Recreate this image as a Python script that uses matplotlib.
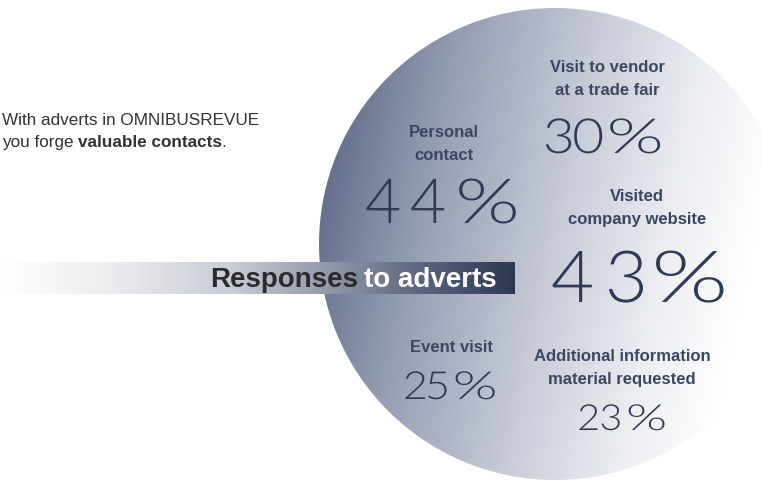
import matplotlib
matplotlib.use("Agg")
import matplotlib.pyplot as plt
import numpy as np
from matplotlib.colors import LinearSegmentedColormap
from matplotlib.patches import Circle, PathPatch
from matplotlib.textpath import TextPath
from matplotlib.font_manager import FontProperties
from matplotlib.transforms import Affine2D

# ── 데이터 ─────────────────────────────────────────────────────────────
categories = [
    "Personal\ncontact",
    "Visit to vendor\nat a trade fair",
    "Visited\ncompany website",
    "Event visit",
    "Additional information\nmaterial requested",
]
values = [44, 30, 43, 25, 23]

intro_line1 = "With adverts in OMNIBUSREVUE"
intro_line2 = ["you forge ", "valuable contacts", "."]
title_parts = ["Responses", "to adverts"]

# ── 레이아웃 (픽셀 단위, y 는 위에서 아래로) ──────────────────────────
label_x = [444, 607, 637, 451, 622]
label_base = [137, 72, 201, 352, 361]       # 첫 줄 baseline
pct_x = [441, 603, 638, 450, 622]           # 퍼센트 중심
pct_base = [223, 153, 302, 399, 430]
pct_height = [45, 35, 52, 28, 26]           # 숫자 높이
pct_width = [147, 117, 173, 95, 89]         # 전체 폭
pct_gaps = [(12, 15), (3, 8), (17, 13), (3, 9), (4, 9)]
DIGIT_R, PCT_R = 0.7, 1.25                  # 숫자 / % 상대 폭

W, H = 761, 480
LABEL_C = "#3b4660"
PCT_C = "#2f3b55"
SANS = ["Liberation Sans", "DejaVu Sans"]
THIN = FontProperties(family=["Lato", "Open Sans", "DejaVu Sans"], weight=300)

fig = plt.figure(figsize=(W / 100, H / 100), dpi=100)
ax = fig.add_axes([0, 0, 1, 1])
ax.set_xlim(0, W); ax.set_ylim(H, 0)
ax.axis("off")
renderer = fig.canvas.get_renderer()


def _width(txt):
    return txt.get_window_extent(renderer).width


def draw_pct(s, xc, base, h, total_w, gaps):
    """퍼센트 문자열을 글자별 경로로 그려 폭/자간을 맞춘다."""
    zero = TextPath((0, 0), "0", size=100, prop=THIN).get_extents()
    size = 100 * h / zero.height
    w_zero = zero.width * size / 100
    w_pct = TextPath((0, 0), "%", size=size, prop=THIN).get_extents().width
    gap_list = [gaps[0]] * (len(s) - 2) + [gaps[1], 0]
    unit = (total_w - sum(gap_list)) / (DIGIT_R * (len(s) - 1) + PCT_R)
    xs_d = DIGIT_R * unit / w_zero
    xs_p = PCT_R * unit / w_pct
    placed = []
    cur = 0.0
    for ch, g in zip(s, gap_list):
        p = TextPath((0, 0), ch, size=size, prop=THIN)
        e = p.get_extents()
        xs = xs_p if ch == "%" else xs_d
        placed.append((p, e, xs, cur))
        cur += e.width * xs + g
    x0 = xc - cur / 2
    for p, e, xs, off in placed:
        tr = Affine2D().translate(-e.x0, 0).scale(xs, -1).translate(x0 + off, base)
        ax.add_patch(PathPatch(tr.transform_path(p), fc=PCT_C, ec="none", lw=0, zorder=3))


# ── 원형 그라데이션 ───────────────────────────────────────────────────
cx, cy, r = 555, 244, 236
circ_cmap = LinearSegmentedColormap.from_list(
    "circ", [(0, "#4f5d7d"), (0.25, "#959db2"), (0.5, "#c8ccd8"),
             (0.7, "#eceef2"), (0.85, "#ffffff"), (1, "#ffffff")])
gx, gy = np.meshgrid(np.linspace(cx - r, cx + r, 400), np.linspace(cy - r, cy + r, 400))
ang = np.deg2rad(12)
proj = (gx - (cx - r)) * np.cos(ang) + (gy - (cy - r)) * np.sin(ang)
proj = (proj - proj.min()) / (proj.max() - proj.min())
im = ax.imshow(proj, cmap=circ_cmap, extent=[cx - r, cx + r, cy + r, cy - r],
               origin="upper", interpolation="bilinear", zorder=1, aspect="auto")
clip = Circle((cx, cy), r, transform=ax.transData)
im.set_clip_path(clip)

# ── 배너 ─────────────────────────────────────────────────────────────
bx0, bx1, by0, by1 = 0, 515, 262, 294
ban_cmap = LinearSegmentedColormap.from_list(
    "ban", [(0, "#ffffff"), (0.2, "#eeeef1"), (0.45, "#c9ccd5"),
            (0.65, "#8e95a6"), (0.85, "#525d76"), (1, "#2d3852")])
ax.imshow(np.linspace(0, 1, 300)[None, :], cmap=ban_cmap,
          extent=[bx0, bx1, by1, by0], aspect="auto", zorder=2)

t2 = ax.text(497, 287, title_parts[1], fontsize=20, fontweight="bold",
             family=SANS, color="white", ha="right", va="baseline", zorder=3)
gap = 6
ax.text(497 - _width(t2) - gap, 287, title_parts[0], fontsize=20, fontweight="bold",
        family=SANS, color="#2b2b2b", ha="right", va="baseline", zorder=3)

# ── 소개 문구 ─────────────────────────────────────────────────────────
ax.text(2, 125, intro_line1, fontsize=12.3, family=SANS, color="#333333",
        ha="left", va="baseline", zorder=3)
x = 2
for part, wgt in zip(intro_line2, ["normal", "bold", "normal"]):
    t = ax.text(x, 147, part.rstrip(), fontsize=12.3, family=SANS, fontweight=wgt,
                color="#333333", ha="left", va="baseline", zorder=3)
    x += _width(t) + (4 if part.endswith(" ") else 0)

# ── 항목 라벨 + 퍼센트 ────────────────────────────────────────────────
for cat, val, lx, lb, px, pb, ph, pw, pg in zip(categories, values, label_x, label_base,
                                               pct_x, pct_base, pct_height, pct_width, pct_gaps):
    for i, line in enumerate(cat.split("\n")):
        ax.text(lx, lb + i * 23, line, fontsize=12, fontweight="bold", family=SANS,
                color=LABEL_C, ha="center", va="baseline", zorder=3)
    draw_pct(f"{val}%", px, pb, ph, pw, pg)

fig.savefig("out.png", dpi=100)
